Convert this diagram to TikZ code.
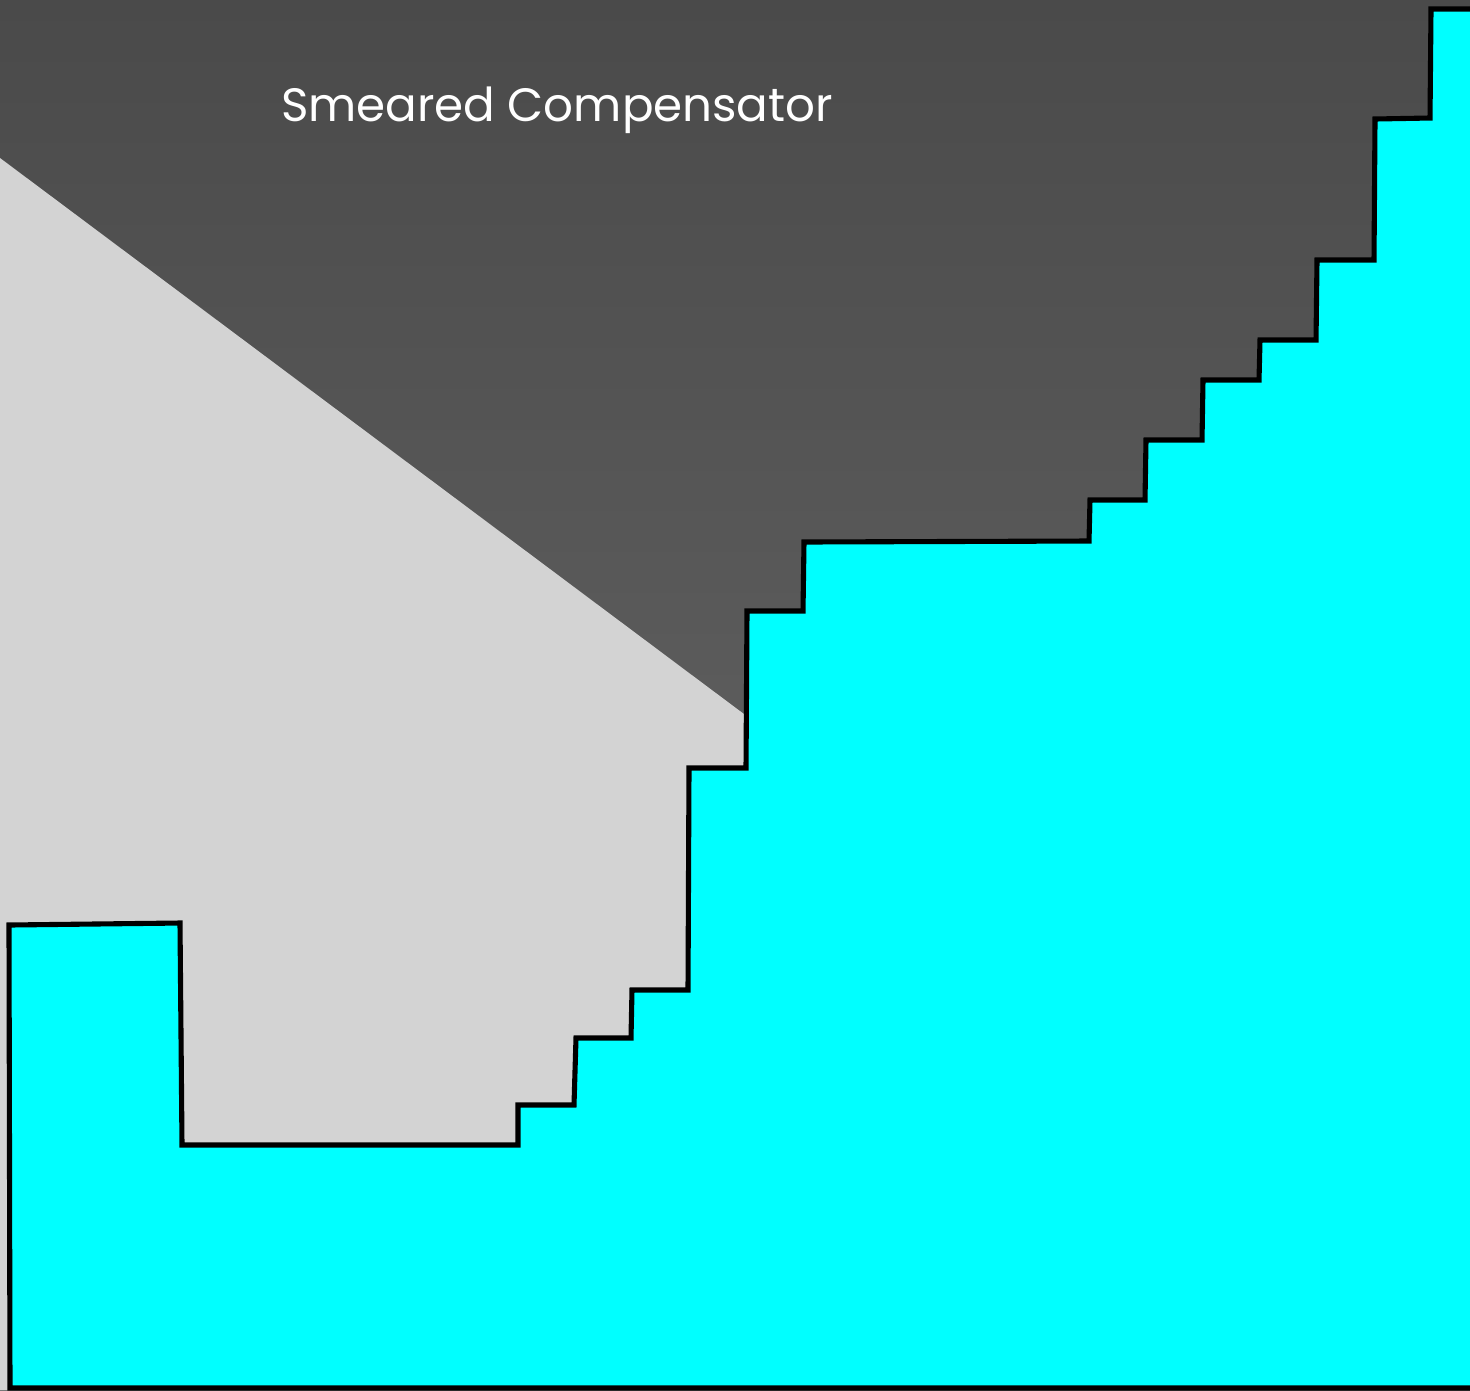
\documentclass[tikz,border=0pt]{standalone}
\usepackage{fontspec}
\setmainfont{Poppins}
\definecolor{fillcyan}{RGB}{0,255,255}
\definecolor{wedgegrey}{RGB}{211,211,211}
\definecolor{darktop}{RGB}{74,74,74}
\definecolor{darkbottom}{RGB}{108,108,108}
\begin{document}
\begin{tikzpicture}[x=0.01cm,y=-0.01cm,
  outline/.style={draw=black,line width=1.45pt,line join=miter,fill=fillcyan},
  title/.style={text=white,font=\fontsize{13.3}{16}\selectfont,inner sep=0pt,anchor=base}]
\useasboundingbox (0,0) rectangle (1470,1390);
\clip (0,0) rectangle (1470,1390);
% dark background with slight vertical gradient
\shade[top color=darktop,bottom color=darkbottom] (0,0) rectangle (1470,1390);
% light grey wedge
\fill[wedgegrey] (0,158) -- (760,726) -- (760,1390) -- (0,1390) -- cycle;
% compensator outline
\draw[outline] (9,925) -- (180,923) -- (182,1145) -- (518,1145) -- (518,1105)
  -- (574,1105) -- (576,1038) -- (631,1038) -- (632,990) -- (688,990)
  -- (689,768) -- (746,768) -- (747,611) -- (803,611) -- (804,542)
  -- (1089,541) -- (1090,500) -- (1145,500) -- (1146,440) -- (1202,440)
  -- (1203,380) -- (1259,380) -- (1260,340) -- (1316,340) -- (1317,260)
  -- (1374,260) -- (1375,119) -- (1430,118) -- (1431,9) -- (1480,9)
  -- (1480,1388) -- (10,1388) -- cycle;
\node[title] (lbl) at (557,121) {Smeared Compensator};
\end{tikzpicture}
\end{document}
